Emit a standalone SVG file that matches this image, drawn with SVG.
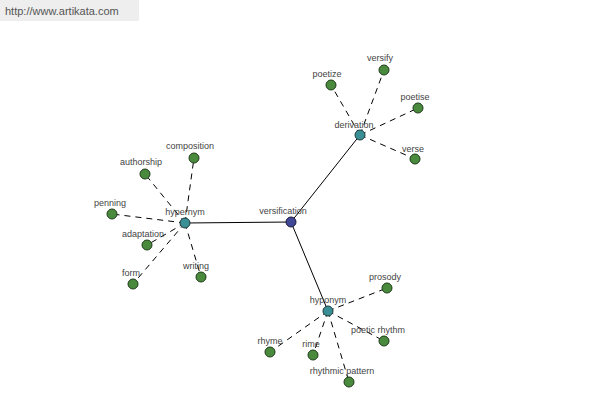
<svg xmlns="http://www.w3.org/2000/svg" width="600" height="400" viewBox="0 0 600 400">
<style>
.lbl{font-family:"Liberation Sans",Arial,sans-serif;font-size:9px;fill:#444;text-anchor:middle}
.leaf{fill:#4a8a3c;stroke:#1e3a1a;stroke-width:1}
.mid{fill:#3a8f96;stroke:#1e3a3a;stroke-width:1}
.root{fill:#3f4796;stroke:#1a1a3a;stroke-width:1}
.solid{stroke:#000;stroke-width:1;fill:none}
.dash{stroke:#000;stroke-width:1;fill:none;stroke-dasharray:6,5}
</style>
<rect x="0" y="0" width="600" height="400" fill="#fff"/>
<rect x="0" y="0" width="139" height="21" fill="#eeeeee"/>
<text x="5" y="15" style="font-family:'Liberation Sans',Arial,sans-serif;font-size:11px;fill:#555">http://www.artikata.com</text>
<g id="connectors">
<line class="solid" x1="291" y1="222" x2="185" y2="223"/>
<line class="solid" x1="291" y1="222" x2="360" y2="135"/>
<line class="solid" x1="291" y1="222" x2="328" y2="311"/>
<line class="dash" x1="185" y1="223" x2="194" y2="158"/>
<line class="dash" x1="185" y1="223" x2="145" y2="174"/>
<line class="dash" x1="185" y1="223" x2="112" y2="214"/>
<line class="dash" x1="185" y1="223" x2="147" y2="245"/>
<line class="dash" x1="185" y1="223" x2="133" y2="284"/>
<line class="dash" x1="185" y1="223" x2="201" y2="277"/>
<line class="dash" x1="360" y1="135" x2="331" y2="85"/>
<line class="dash" x1="360" y1="135" x2="384" y2="70"/>
<line class="dash" x1="360" y1="135" x2="418" y2="108"/>
<line class="dash" x1="360" y1="135" x2="415" y2="159"/>
<line class="dash" x1="328" y1="311" x2="387" y2="288"/>
<line class="dash" x1="328" y1="311" x2="384" y2="341"/>
<line class="dash" x1="328" y1="311" x2="349" y2="382"/>
<line class="dash" x1="328" y1="311" x2="313" y2="355"/>
<line class="dash" x1="328" y1="311" x2="270" y2="352"/>
</g>
<g id="versification"><circle class="root" cx="291" cy="222" r="5"/><text class="lbl" x="283" y="214">versification</text></g>
<g id="hypernym"><circle class="mid" cx="185" cy="223" r="5"/><text class="lbl" x="185" y="215">hypernym</text></g>
<g id="derivation"><circle class="mid" cx="360" cy="135" r="5"/><text class="lbl" x="354" y="128">derivation</text></g>
<g id="hyponym"><circle class="mid" cx="328" cy="311" r="5"/><text class="lbl" x="328" y="303">hyponym</text></g>
<g id="composition"><circle class="leaf" cx="194" cy="158" r="5"/><text class="lbl" x="190" y="149">composition</text></g>
<g id="authorship"><circle class="leaf" cx="145" cy="174" r="5"/><text class="lbl" x="141" y="165">authorship</text></g>
<g id="penning"><circle class="leaf" cx="112" cy="214" r="5"/><text class="lbl" x="110" y="206">penning</text></g>
<g id="adaptation"><circle class="leaf" cx="147" cy="245" r="5"/><text class="lbl" x="143" y="237">adaptation</text></g>
<g id="form"><circle class="leaf" cx="133" cy="284" r="5"/><text class="lbl" x="131" y="276">form</text></g>
<g id="writing"><circle class="leaf" cx="201" cy="277" r="5"/><text class="lbl" x="196" y="269">writing</text></g>
<g id="poetize"><circle class="leaf" cx="331" cy="85" r="5"/><text class="lbl" x="327" y="77">poetize</text></g>
<g id="versify"><circle class="leaf" cx="384" cy="70" r="5"/><text class="lbl" x="380" y="61">versify</text></g>
<g id="poetise"><circle class="leaf" cx="418" cy="108" r="5"/><text class="lbl" x="415" y="100">poetise</text></g>
<g id="verse"><circle class="leaf" cx="415" cy="159" r="5"/><text class="lbl" x="413" y="152">verse</text></g>
<g id="prosody"><circle class="leaf" cx="387" cy="288" r="5"/><text class="lbl" x="385" y="280">prosody</text></g>
<g id="poetic-rhythm"><circle class="leaf" cx="384" cy="341" r="5"/><text class="lbl" x="378" y="333">poetic rhythm</text></g>
<g id="rhythmic-pattern"><circle class="leaf" cx="349" cy="382" r="5"/><text class="lbl" x="342" y="374">rhythmic pattern</text></g>
<g id="rime"><circle class="leaf" cx="313" cy="355" r="5"/><text class="lbl" x="311" y="347">rime</text></g>
<g id="rhyme"><circle class="leaf" cx="270" cy="352" r="5"/><text class="lbl" x="270" y="344">rhyme</text></g>
</svg>
